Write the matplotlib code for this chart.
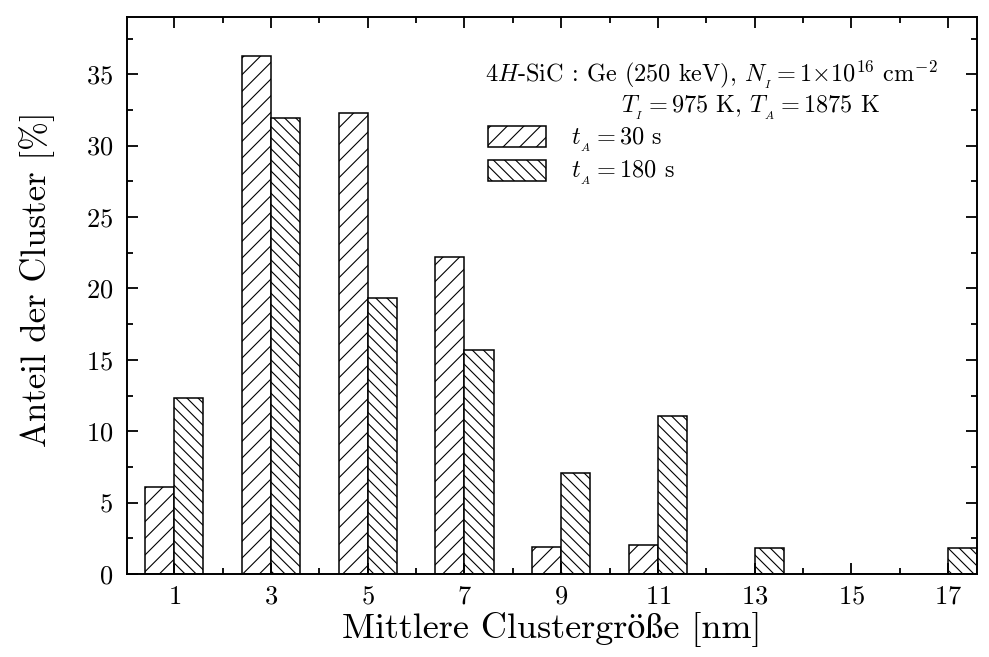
import numpy as np
import matplotlib
matplotlib.use("Agg")
import matplotlib.pyplot as plt
from matplotlib.patches import Patch
from matplotlib.ticker import MultipleLocator

plt.rcParams.update({
    "font.family": ["cmr10", "STIXGeneral", "DejaVu Serif"],
    "mathtext.fontset": "cm",
    "axes.formatter.use_mathtext": True,
    "axes.linewidth": 1.4,
    "hatch.linewidth": 0.8,
})

# --- data -------------------------------------------------------------------
sizes = np.array([1, 3, 5, 7, 9, 11, 13, 15, 17])          # nm
share_30s = [6.1, 36.3, 32.3, 22.2, 1.9, 2.0, 0.0, 0.0, 0.0]   # %
share_180s = [12.3, 31.9, 19.3, 15.7, 7.1, 11.1, 1.8, 0.0, 1.8]  # %
labels = [r"$t_{_A} = 30$ s", r"$t_{_A} = 180$ s"]

fig = plt.figure(figsize=(9.89, 6.57), dpi=100)
ax = fig.add_axes([0.1284, 0.1263, 0.8595, 0.8477])

w = 0.6
ax.bar(sizes - w / 2, share_30s, width=w, facecolor="white", edgecolor="black",
       hatch="//", linewidth=1.1)
ax.bar(sizes + w / 2, share_180s, width=w, facecolor="white", edgecolor="black",
       hatch="\\\\\\", linewidth=1.1)

ax.set_xlim(0.02, 17.6)
ax.set_ylim(0, 39)
ax.xaxis.set_major_locator(MultipleLocator(2, offset=1))
ax.xaxis.set_minor_locator(MultipleLocator(2))
ax.yaxis.set_major_locator(MultipleLocator(5))
ax.yaxis.set_minor_locator(MultipleLocator(2.5))
ax.tick_params(which="both", direction="in", top=True, right=True,
               labelsize=19, width=1.3)
ax.tick_params(which="major", length=8)
ax.tick_params(which="minor", length=4.5)
ax.tick_params(axis="x", which="major", pad=8)
ax.tick_params(axis="y", which="major", pad=10)

ax.set_xlabel("Mittlere Clustergröße [nm]", fontsize=26, labelpad=2)
ax.set_ylabel("Anteil der Cluster [%]", fontsize=25, labelpad=20)
ax.yaxis.set_label_coords(-0.085, 0.53)

ax.text(0.7195, 1 - 82 / 657,
        r"4$H$-SiC : Ge (250 keV), $N_{_I} = 1{\times}10^{16}$ cm$^{-2}$",
        transform=fig.transFigure, ha="center", va="baseline", fontsize=17.5)
ax.text(0.7585, 1 - 113 / 657,
        r"$T_{_I} = 975$ K, $T_{_A} = 1875$ K",
        transform=fig.transFigure, ha="center", va="baseline", fontsize=17.5)

handles = [Patch(facecolor="white", edgecolor="black", hatch="//", linewidth=1.1),
           Patch(facecolor="white", edgecolor="black", hatch="\\\\\\", linewidth=1.1)]
ax.legend(handles, labels, loc="upper left",
          bbox_to_anchor=(488 / 989, 1 - 126 / 657),
          bbox_transform=fig.transFigure, frameon=False, fontsize=17.5,
          borderpad=0, borderaxespad=0, handlelength=2.4, handleheight=0.95,
          handletextpad=1.0, labelspacing=0.22)

fig.savefig("out.png", dpi=100, facecolor="white")
